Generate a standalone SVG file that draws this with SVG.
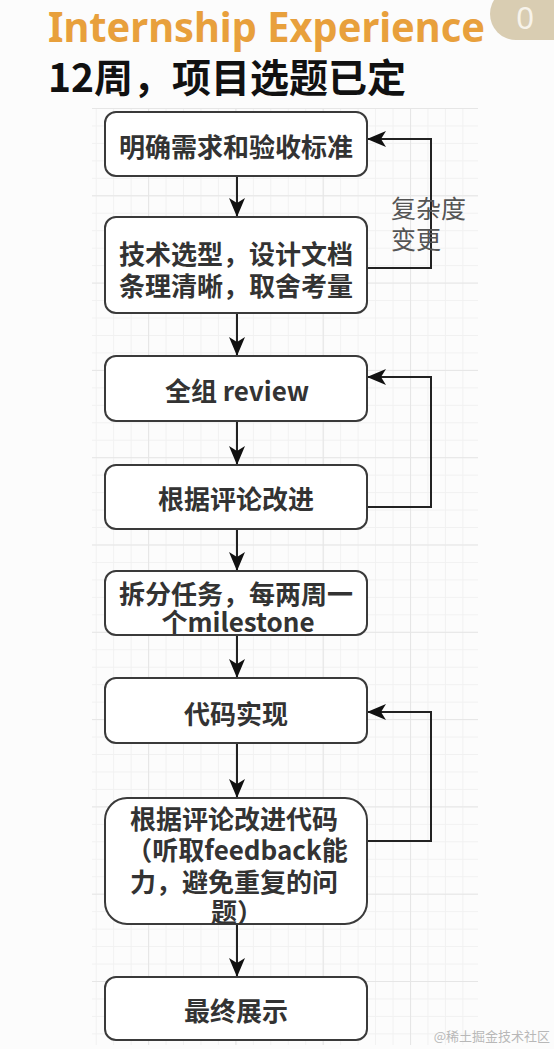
<svg xmlns="http://www.w3.org/2000/svg" width="554" height="1049" viewBox="0 0 554 1049">
<style>
.box{fill:#ffffff;stroke:#3a3a3a;stroke-width:2}
.t{font-family:"Noto Sans CJK SC","Noto Sans",sans-serif;font-size:26px;font-weight:700;fill:#333333;text-anchor:middle;dominant-baseline:central}
.c{fill:none;stroke:#222222;stroke-width:2}
.lbl{font-family:"Noto Sans CJK SC","Noto Sans",sans-serif;font-size:25px;font-weight:400;fill:#555555;dominant-baseline:central}
</style>
<defs>
<marker id="arr" markerUnits="userSpaceOnUse" markerWidth="20" markerHeight="16" viewBox="0 0 20 16" refX="19" refY="8" orient="auto">
<path d="M0,0 L19,8 L0,16 L5,8 Z" fill="#111111"/>
</marker>
<pattern id="minor" patternUnits="userSpaceOnUse" x="60.8" y="108" width="17.46" height="17.46">
<path d="M0,0.5 H17.46 M0.5,0 V17.46" stroke="#f1f1f1" stroke-width="1" fill="none"/>
</pattern>
<pattern id="major" patternUnits="userSpaceOnUse" x="60.8" y="108" width="87.3" height="87.3">
<path d="M0,0.5 H87.3 M0.5,0 V87.3" stroke="#e6e6e6" stroke-width="1.2" fill="none"/>
</pattern>
</defs>
<rect x="0" y="0" width="554" height="1049" fill="#fcfcfc"/>
<rect x="92" y="108" width="386" height="937" fill="url(#minor)"/>
<rect x="92" y="108" width="386" height="937" fill="url(#major)"/>

<g id="title">
<text x="48" y="42" font-family="'Noto Sans','Open Sans',sans-serif" font-size="41" font-weight="700" fill="#E8A03C" textLength="437" lengthAdjust="spacingAndGlyphs">Internship Experience</text>
<text x="48" y="75" font-family="'Noto Sans CJK SC',sans-serif" font-size="39" font-weight="700" fill="#111111" dominant-baseline="central">12周，项目选题已定</text>
</g>
<g id="badge">
<rect x="490" y="-12" width="100" height="52" rx="26" fill="#d9cdb2"/>
<text x="525" y="28.5" font-family="'Liberation Sans',sans-serif" font-size="31" fill="#f7f3ea" text-anchor="middle">0</text>
</g>

<g id="connectors">
<line class="c" x1="237" y1="176" x2="237" y2="217" marker-end="url(#arr)"/>
<line class="c" x1="237" y1="313" x2="237" y2="356" marker-end="url(#arr)"/>
<line class="c" x1="237" y1="421" x2="237" y2="465" marker-end="url(#arr)"/>
<line class="c" x1="237" y1="529" x2="237" y2="571" marker-end="url(#arr)"/>
<line class="c" x1="237" y1="635" x2="237" y2="678" marker-end="url(#arr)"/>
<line class="c" x1="237" y1="743" x2="237" y2="798" marker-end="url(#arr)"/>
<line class="c" x1="237" y1="924" x2="237" y2="977" marker-end="url(#arr)"/>
<path class="c" d="M367,268 H431 V139 H367" marker-end="url(#arr)"/>
<path class="c" d="M367,507 H431 V377 H367" marker-end="url(#arr)"/>
<path class="c" d="M367,841 H431 V712 H367" marker-end="url(#arr)"/>
<text class="lbl" x="391" y="207">复杂度<tspan x="391" dy="31">变更</tspan></text>
</g>

<g id="n1">
<rect class="box" x="105" y="112" width="262" height="64" rx="11"/>
<text class="t" x="236" y="145">明确需求和验收标准</text>
</g>
<g id="n2">
<rect class="box" x="105" y="217" width="262" height="96" rx="11"/>
<text class="t" x="236" y="252">技术选型，设计文档<tspan x="236" dy="31.5">条理清晰，取舍考量</tspan></text>
</g>
<g id="n3">
<rect class="box" x="105" y="356" width="262" height="65" rx="11"/>
<text class="t" x="237" y="389">全组 review</text>
</g>
<g id="n4">
<rect class="box" x="105" y="465" width="262" height="64" rx="11"/>
<text class="t" x="236" y="497">根据评论改进</text>
</g>
<g id="n5">
<rect class="box" x="105" y="571" width="262" height="64" rx="11"/>
<text class="t" x="236" y="592">拆分任务，每两周一<tspan x="238" dy="28">个milestone</tspan></text>
</g>
<g id="n6">
<rect class="box" x="105" y="678" width="262" height="65" rx="11"/>
<text class="t" x="236" y="712">代码实现</text>
</g>
<g id="n7">
<rect class="box" x="105" y="798" width="262" height="126" rx="22"/>
<text class="t" x="234" y="817">根据评论改进代码<tspan x="237" dy="31">（听取feedback能</tspan><tspan x="234" dy="32">力，避免重复的问</tspan><tspan x="237" dy="30">题）</tspan></text>
</g>
<g id="n8">
<rect class="box" x="105" y="977" width="262" height="63" rx="11"/>
<text class="t" x="236" y="1009">最终展示</text>
</g>

<text x="550" y="1035" font-family="'Noto Sans CJK SC',sans-serif" font-size="13" fill="#b8b8b8" text-anchor="end" dominant-baseline="central">@稀土掘金技术社区</text>
</svg>
